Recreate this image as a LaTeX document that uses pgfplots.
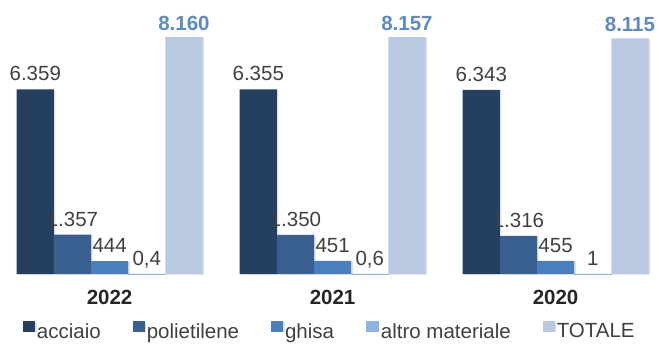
\documentclass[border=0pt]{standalone}
\usepackage{pgfplots}
\pgfplotsset{compat=1.18}
\usepackage{fontspec}
\setmainfont{Liberation Sans}
\definecolor{cA}{HTML}{243F5F}
\definecolor{cB}{HTML}{385F8F}
\definecolor{cC}{HTML}{4A7FBF}
\definecolor{cD}{HTML}{8EB4E3}
\definecolor{cE}{HTML}{BAC9E2}
\definecolor{labgrey}{HTML}{404040}
\definecolor{totblue}{HTML}{5A8BC8}
\begin{document}
\begin{tikzpicture}[x=1pt,y=1pt]
\useasboundingbox (0,0) rectangle (659,343);
\begin{axis}[
  at={(0pt,69pt)}, anchor=south west,
  scale only axis, width=659pt, height=274pt,
  xmin=-0.4915, xmax=2.4637, ymin=0, ymax=9434,
  clip=false,
  axis line style={draw=none},
  major tick length=0pt,
  ytick=\empty,
  xtick={0,1,2}, xticklabels={2022,2021,2020},
  xticklabel style={anchor=base, yshift=-30pt, font=\bfseries\fontsize{20.5}{24}\selectfont, text=black!85},
  ybar=0pt, bar width=37.17pt,
  nodes near coords, point meta=explicit symbolic,
  every node near coord/.append style={anchor=base, yshift=8.5pt, inner sep=0pt, font=\fontsize{20.5}{24}\selectfont, text=labgrey},
  shad/.style={preaction={fill=black, fill opacity=0.12, draw=none, transform canvas={xshift=1.6pt, yshift=-0.6pt}}},
  legend columns=5,
  legend style={draw=none, fill=none, at={(0.03,-0.209)}, anchor=west,
    font=\fontsize{20.5}{24}\selectfont, text=labgrey,
    /tikz/every even column/.append style={column sep=30pt}},
  legend image code/.code={\fill[#1] (0pt,-0.5pt) rectangle (12pt,10pt);},
]
\addplot[fill=cA, draw=none, shad] coordinates {(0,6359)[6.359] (1,6355)[6.355] (2,6343)[6.343]};
\addplot[fill=cB, draw=none, shad] coordinates {(0,1357)[1.357] (1,1350)[1.350] (2,1316)[1.316]};
\addplot[fill=cC, draw=none, shad] coordinates {(0,444)[444] (1,451)[451] (2,455)[455]};
\addplot[fill=cD, draw=cD, line width=0.8pt] coordinates {(0,0.4)[0,4] (1,0.6)[0,6] (2,1)[1]};
\addplot[fill=cE, draw=none, shad, every node near coord/.append style={text=totblue, font=\bfseries\fontsize{20.5}{24}\selectfont, yshift=-2pt}] coordinates {(0,8160)[8.160] (1,8157)[8.157] (2,8115)[8.115]};
\legend{acciaio, polietilene, ghisa, altro materiale, TOTALE}
\end{axis}
\end{tikzpicture}
\end{document}
